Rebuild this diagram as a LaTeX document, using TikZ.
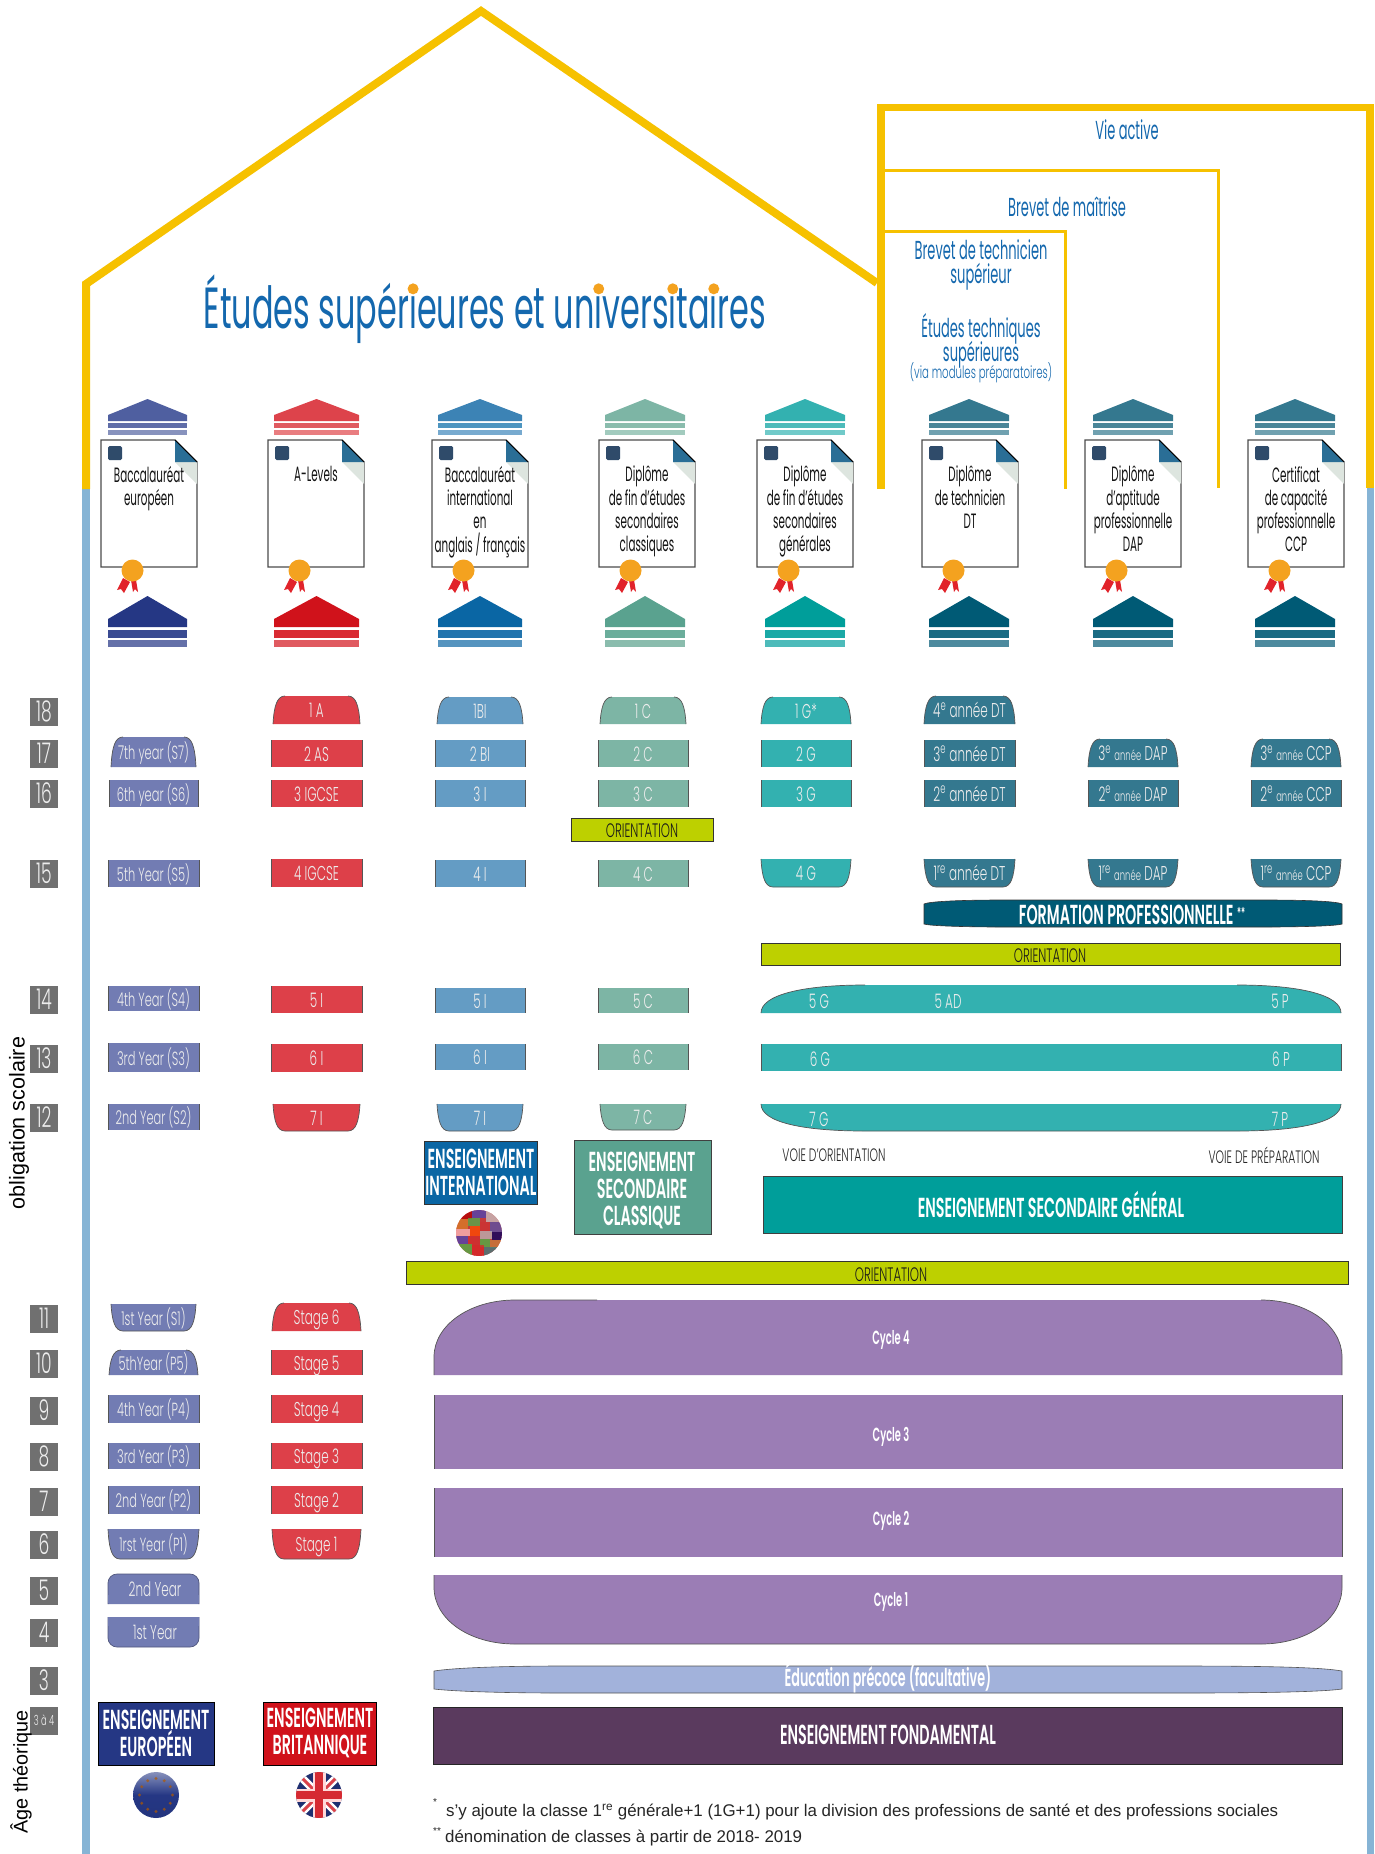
\documentclass[tikz,border=0pt]{standalone}
\usepackage{fontspec}
\setmainfont{Liberation Sans}
\newfontfamily\fut[FakeStretch=0.6]{Poppins Light}
\newfontfamily\futd[FakeStretch=0.5]{Poppins}
\newfontfamily\futt[FakeStretch=0.55]{Poppins}
\newfontfamily\futb[FakeStretch=0.52]{Poppins SemiBold}
\newcommand\fsz[2]{\fontsize{#1}{#2}\selectfont}
\newcommand\es[1]{{\fsz{19}{20}#1}}
\definecolor{yel}{HTML}{F6C100}
\definecolor{dotc}{HTML}{F4A21F}
\definecolor{sideblue}{HTML}{86B4D5}
\definecolor{agegray}{HTML}{707070}
\definecolor{edgeg}{HTML}{555555}
\definecolor{ttl}{HTML}{1468AE}
\definecolor{ceu}{HTML}{727CB3}
\definecolor{cbr}{HTML}{DD4049}
\definecolor{cib}{HTML}{649CC4}
\definecolor{ccl}{HTML}{7DB5A5}
\definecolor{cge}{HTML}{33B1B0}
\definecolor{cdt}{HTML}{34788F}
\definecolor{cfp}{HTML}{005A75}
\definecolor{cor}{HTML}{BDD000}
\definecolor{ccy}{HTML}{9B7DB5}
\definecolor{cpr}{HTML}{A2B2DB}
\definecolor{cfo}{HTML}{5A3A5E}
\definecolor{beu}{HTML}{253784}
\definecolor{bbr}{HTML}{D0121B}
\definecolor{bib}{HTML}{0A66A4}
\definecolor{bcl}{HTML}{5AA28F}
\definecolor{bge}{HTML}{009E9A}
\definecolor{foldb}{HTML}{2A6E96}
\definecolor{foldg}{HTML}{DDE5DF}
\definecolor{docsq}{HTML}{2F4B6A}
\definecolor{medal}{HTML}{F4A21F}
\definecolor{ribbon}{HTML}{E1232A}
\tikzset{
 lbl/.style={inner sep=0pt,text=white!93!black,font=\fut\fsz{20}{22},text height=14pt,text depth=0pt},
 agenum/.style={fill=agegray,inner sep=0pt,text=white!93!black,font=\fut\fsz{28.5}{30},text height=20pt,text depth=0pt},
 ttltxt/.style={inner sep=0pt,text=ttl,font=\futd\fsz{26}{24},align=center},
 doctxt/.style={anchor=north,inner sep=0pt,text=black!92,font=\futd\fsz{20.7}{23.3},align=center},
 badge/.style={inner sep=0pt,text=white,font=\futb\fsz{27.5}{27},align=center},
 ortxt/.style={inner sep=0pt,text=black!90,font=\fut\fsz{19.5}{20},text height=14pt,text depth=0pt},
 voie/.style={inner sep=0pt,text=black!85,font=\fut\fsz{18}{19}},
 cyc/.style={inner sep=0pt,text=white,font=\futb\fsz{19}{20}},
 edgeline/.style={draw=edgeg,line width=.7pt},
 note/.style={anchor=west,inner sep=0pt,text=black!85,font=\fsz{16.9}{19}},
 sidetxt/.style={inner sep=0pt,text=black,rotate=90},
}
% i with orange dot for the main title
\newcommand\oi{\setbox0\hbox{i}\rlap{i}\hbox to \wd0{\hss\raisebox{34pt}{\tikz\fill[dotc] (0,0) circle (5.5pt);}\hss}}
% flat box
\newcommand\fbx[7]{\fill[#6] (#2,#3) rectangle (#4,#5);
 \draw[edgeline] (#2,#3) -- (#2,#5) (#4,#3) -- (#4,#5);
 \node[lbl] (#1) at ({(#2+#4)/2},{(#3+#5)/2+.8}) {#7};}
% top rounded
\newcommand\tbx[7]{\fill[#6] (#2,#5) .. controls (#2+1,#3+10) and (#2+4,#3) .. (#2+12,#3) -- (#4-12,#3) .. controls (#4-4,#3) and (#4-1,#3+10) .. (#4,#5) -- cycle;
 \draw[edgeline] (#2,#5) .. controls (#2+1,#3+10) and (#2+4,#3) .. (#2+12,#3) (#4,#5) .. controls (#4-1,#3+10) and (#4-4,#3) .. (#4-12,#3);
 \node[lbl] (#1) at ({(#2+#4)/2},{(#3+#5)/2+.8}) {#7};}
% bottom rounded
\newcommand\bbx[7]{\fill[#6] (#2,#3) .. controls (#2+1,#5-10) and (#2+4,#5) .. (#2+12,#5) -- (#4-12,#5) .. controls (#4-4,#5) and (#4-1,#5-10) .. (#4,#3) -- cycle;
 \draw[edgeline] (#2,#3) .. controls (#2+1,#5-10) and (#2+4,#5) .. (#2+12,#5) -- (#4-12,#5) .. controls (#4-4,#5) and (#4-1,#5-10) .. (#4,#3);
 \node[lbl] (#1) at ({(#2+#4)/2},{(#3+#5)/2+.8}) {#7};}
% age
\newcommand\age[4]{\node[agenum,minimum width=28pt,minimum height=#4pt-#3pt] (#1) at (44,{(#3+#4)/2+.5}) {#2};}
% houses
\newcommand\htop[5]{\fill[#3] (#1,415) -- ({(#1+#2)/2},399) -- (#2,415) -- (#2,421) -- (#1,421) -- cycle;
 \fill[#4] (#1,422.5) rectangle (#2,428); \fill[#5] (#1,429.5) rectangle (#2,435);}
\newcommand\hbot[5]{\fill[#3] (#1,619) -- ({(#1+#2)/2},596) -- (#2,619) -- (#2,627) -- (#1,627) -- cycle;
 \fill[#4] (#1,630) rectangle (#2,638); \fill[#5] (#1,640) rectangle (#2,647);}
% document
\newcommand\docu[3]{
 \draw[black!70,line width=1.2pt,fill=white] (#2,440) -- (#2+74,440) -- (#2+96,462) -- (#2+96,567) -- (#2,567) -- cycle;
 \fill[foldg] (#2+74,462) -- (#2+96,462) -- (#2+96,484) -- cycle;
 \fill[foldb] (#2+74,440) -- (#2+96,462) -- (#2+74,462) -- cycle;
 \draw[black,line width=.8pt] (#2+74,440) -- (#2+96,462);
 \fill[rounded corners=1.5pt,docsq] (#2+7,446) rectangle (#2+21,460);
 \fill[ribbon] (#2+22,578) -- (#2+29,582) -- (#2+23,593) -- (#2+20,589) -- (#2+16,590) -- cycle;
 \fill[ribbon] (#2+30,580) -- (#2+35,580) -- (#2+37,592) -- (#2+34,589) -- (#2+32,592) -- cycle;
 \fill[medal] (#2+31.5,570.5) circle (11);
 \node[doctxt] (#1) at (#2+48,466) {#3};}
\begin{document}
\begin{tikzpicture}[x=1pt,y=-1pt]
\useasboundingbox (0,0) rectangle (1374,1854);
\fill[white] (0,0) rectangle (1374,1854);
% side bars
\fill[sideblue] (82,488) rectangle (89.5,1854);
\fill[sideblue] (1366.5,488) rectangle (1374,1854);
% roof
\draw[yel,line width=8pt,miter limit=10] (86,489) -- (86,284) -- (481,11) -- (877,283);
\draw[yel,line width=7.5pt] (881,489) -- (881,107.5) -- (1370,107.5) -- (1370,488);
\draw[yel,line width=3pt] (881,170.5) -- (1218,170.5) -- (1218,488);
\draw[yel,line width=3pt] (881,231.5) -- (1065,231.5) -- (1065,489);
% titles
\node[inner sep=0pt,text=ttl,font=\futt\fsz{58}{60}] (title) at (485,309) {Études supér\oi eures et un\oi vers\oi ta\oi res};
\node[ttltxt] (vie) at (1127,130) {Vie active};
\node[ttltxt] (mai) at (1067,207) {Brevet de maîtrise};
\node[ttltxt,anchor=north] (bts) at (981,240) {Brevet de technicien\\supérieur};
\node[ttltxt,anchor=north] (ets) at (981,313) {Études techniques\\[-4pt]supérieures};
\node[ttltxt,font=\fut\fsz{17}{18}] (via) at (981,373) {(via modules préparatoires)};
% houses
\definecolor{a1}{HTML}{4F5FA0}\definecolor{a2}{HTML}{5F6DA8}\definecolor{a3}{HTML}{8792BD}
\definecolor{a4}{HTML}{253784}\definecolor{a5}{HTML}{3A4B92}\definecolor{a6}{HTML}{6470A8}
\definecolor{b1}{HTML}{DD434B}\definecolor{b2}{HTML}{E05A60}\definecolor{b3}{HTML}{E97D80}
\definecolor{b4}{HTML}{D0121B}\definecolor{b5}{HTML}{D92B33}\definecolor{b6}{HTML}{E05A60}
\definecolor{c1}{HTML}{3C83B5}\definecolor{c2}{HTML}{4D95C0}\definecolor{c3}{HTML}{77AACF}
\definecolor{c4}{HTML}{0A66A4}\definecolor{c5}{HTML}{2274AD}\definecolor{c6}{HTML}{5594BF}
\definecolor{d1}{HTML}{7DB5A5}\definecolor{d2}{HTML}{8ABCAD}\definecolor{d3}{HTML}{A2CBBE}
\definecolor{d4}{HTML}{5AA28F}\definecolor{d5}{HTML}{6BAD9B}\definecolor{d6}{HTML}{8ABCAD}
\definecolor{e1}{HTML}{33B1B0}\definecolor{e2}{HTML}{4DBBBA}\definecolor{e3}{HTML}{70CAC9}
\definecolor{e4}{HTML}{009E9A}\definecolor{e5}{HTML}{1AA9A6}\definecolor{e6}{HTML}{4DBBBA}
\definecolor{f1}{HTML}{34788F}\definecolor{f2}{HTML}{4A8699}\definecolor{f3}{HTML}{70A1B0}
\definecolor{f4}{HTML}{005A75}\definecolor{f5}{HTML}{1A6B83}\definecolor{f6}{HTML}{4D8A9E}
\htop{108}{187}{a1}{a2}{a3}\hbot{108}{187}{a4}{a5}{a6}
\htop{274}{359}{b1}{b2}{b3}\hbot{274}{359}{b4}{b5}{b6}
\htop{438}{522}{c1}{c2}{c3}\hbot{438}{522}{c4}{c5}{c6}
\htop{605}{685}{d1}{d2}{d3}\hbot{605}{685}{d4}{d5}{d6}
\htop{765}{845}{e1}{e2}{e3}\hbot{765}{845}{e4}{e5}{e6}
\htop{929}{1009}{f1}{f2}{f3}\hbot{929}{1009}{f4}{f5}{f6}
\htop{1093}{1173}{f1}{f2}{f3}\hbot{1093}{1173}{f4}{f5}{f6}
\htop{1255}{1335}{f1}{f2}{f3}\hbot{1255}{1335}{f4}{f5}{f6}
% documents
\docu{dEU}{101}{Baccalauréat\\européen}
\docu{dAL}{268}{A-Levels}
\docu{dIB}{432}{Baccalauréat\\international\\en\\anglais / français}
\docu{dCL}{599}{Diplôme\\de fin d’études\\secondaires\\classiques}
\docu{dGE}{757}{Diplôme\\de fin d’études\\secondaires\\générales}
\docu{dDT}{922}{Diplôme\\de technicien\\DT}
\docu{dDA}{1085}{Diplôme\\d’aptitude\\professionnelle\\DAP}
\docu{dCC}{1248}{Certificat\\de capacité\\professionnelle\\CCP}
% ages
\age{a18}{18}{697}{725}\age{a17}{17}{739}{767}\age{a16}{16}{779}{807}\age{a15}{15}{859}{887}
\age{a14}{14}{985}{1013}\age{a13}{13}{1044}{1072}\age{a12}{12}{1103}{1131}
\age{a11}{11}{1304}{1332}\age{a10}{10}{1349}{1377}\age{a9}{9}{1396}{1424}\age{a8}{8}{1442}{1470}
\age{a7}{7}{1487}{1515}\age{a6}{6}{1530}{1558}\age{a5}{5}{1576}{1604}\age{a4}{4}{1618}{1646}\age{a3}{3}{1666}{1694}
\fill[agegray] (30,1707) rectangle (58,1735);
\node[inner sep=0pt,text=white!93!black,font=\fut\fsz{14}{15}] (a34) at (44,1720) {3 à 4};
\node[sidetxt,font=\fsz{21.5}{23}] (oblig) at (19,1123) {obligation scolaire};
\node[sidetxt,font=\fsz{19.8}{22}] (agetheo) at (21,1772) {Âge théorique};
% European column
\tbx{s7}{111}{737}{196}{767}{ceu}{\es{7th year (S7)}}
\fbx{s6}{109}{780}{198}{807}{ceu}{\es{6th year (S6)}}
\fbx{s5}{108}{860}{199}{887}{ceu}{\es{5th Year (S5)}}
\fbx{s4}{108}{986}{199}{1011}{ceu}{\es{4th Year (S4)}}
\fbx{s3}{108}{1043}{199}{1072}{ceu}{\es{3rd Year (S3)}}
\fbx{s2}{108}{1104}{199}{1130}{ceu}{\es{2nd Year (S2)}}
\bbx{s1}{111}{1304}{196}{1331}{ceu}{\es{1st Year (S1)}}
\tbx{p5}{109}{1350}{198}{1375}{ceu}{\es{5thYear (P5)}}
\fbx{p4}{108}{1395}{199}{1423}{ceu}{\es{4th Year (P4)}}
\fbx{p3}{108}{1443}{199}{1469}{ceu}{\es{3rd Year (P3)}}
\fbx{p2}{108}{1486}{199}{1514}{ceu}{\es{2nd Year (P2)}}
\bbx{p1}{108}{1529}{199}{1559}{ceu}{\es{1rst Year (P1)}}
\draw[edgeline,fill=ceu,draw=ceu!70!black,rounded corners=9pt] (108,1604) -- (108,1574) -- (199,1574) -- (199,1604);
\fill[ceu] (108,1595) rectangle (199,1603);
\node[lbl] (n2) at (155,1589) {2nd Year};
\draw[edgeline,fill=ceu,draw=ceu!70!black,rounded corners=9pt] (108,1617) -- (108,1647) -- (199,1647) -- (199,1617);
\fill[ceu] (108,1617) rectangle (199,1626);
\node[lbl] (n1) at (155,1632) {1st Year};
% British column
\tbx{g1}{273}{696}{360}{724}{cbr}{1 A}
\fbx{g2}{271}{740}{362}{767}{cbr}{2 AS}
\fbx{g3}{271}{780}{362}{807}{cbr}{3 IGCSE}
\fbx{g4}{271}{859}{362}{887}{cbr}{4 IGCSE}
\fbx{g5}{271}{986}{362}{1013}{cbr}{5 I}
\fbx{g6}{271}{1044}{362}{1072}{cbr}{6 I}
\bbx{g7}{273}{1104}{360}{1131}{cbr}{7 I}
\tbx{st6}{272}{1303}{361}{1331}{cbr}{Stage 6}
\fbx{st5}{271}{1350}{362}{1375}{cbr}{Stage 5}
\fbx{st4}{271}{1395}{362}{1423}{cbr}{Stage 4}
\fbx{st3}{271}{1443}{362}{1469}{cbr}{Stage 3}
\fbx{st2}{271}{1486}{362}{1514}{cbr}{Stage 2}
\bbx{st1}{272}{1529}{361}{1559}{cbr}{Stage 1}
% International column
\tbx{i1}{437}{697}{523}{724}{cib}{1BI}
\fbx{i2}{435}{740}{525}{767}{cib}{2 BI}
\fbx{i3}{435}{780}{525}{807}{cib}{3 I}
\fbx{i4}{435}{860}{525}{887}{cib}{4 I}
\fbx{i5}{435}{988}{525}{1013}{cib}{5 I}
\fbx{i6}{435}{1044}{525}{1070}{cib}{6 I}
\bbx{i7}{437}{1104}{523}{1131}{cib}{7 I}
% Classic column
\tbx{c1n}{600}{697}{686}{724}{ccl}{1 C}
\fbx{c2n}{598}{740}{688}{767}{ccl}{2 C}
\fbx{c3n}{598}{780}{688}{807}{ccl}{3 C}
\fbx{c4n}{598}{860}{688}{887}{ccl}{4 C}
\fbx{c5n}{598}{988}{688}{1013}{ccl}{5 C}
\fbx{c6n}{598}{1044}{688}{1070}{ccl}{6 C}
\bbx{c7n}{600}{1104}{686}{1130}{ccl}{7 C}
% General column
\tbx{g1n}{761}{697}{851}{724}{cge}{1 G*}
\fbx{g2n}{761}{740}{851}{767}{cge}{2 G}
\fbx{g3n}{761}{780}{851}{807}{cge}{3 G}
\bbx{g4n}{761}{859}{851}{887}{cge}{4 G}
% Professional columns
\tbx{dt4}{924}{696}{1015}{724}{cdt}{4\textsuperscript{e} année DT}
\fbx{dt3}{924}{740}{1015}{767}{cdt}{3\textsuperscript{e} année DT}
\fbx{dt2}{924}{780}{1015}{807}{cdt}{2\textsuperscript{e} année DT}
\bbx{dt1}{924}{859}{1015}{887}{cdt}{1\textsuperscript{re} année DT}
\tbx{da3}{1088}{739}{1178}{767}{cdt}{3\textsuperscript{e} {\fsz{14}{15}année} DAP}
\fbx{da2}{1088}{780}{1178}{807}{cdt}{2\textsuperscript{e} {\fsz{14}{15}année} DAP}
\bbx{da1}{1088}{859}{1178}{887}{cdt}{1\textsuperscript{re} {\fsz{14}{15}année} DAP}
\tbx{cc3}{1251}{739}{1341}{767}{cdt}{3\textsuperscript{e} {\fsz{14}{15}année} CCP}
\fbx{cc2}{1251}{780}{1341}{807}{cdt}{2\textsuperscript{e} {\fsz{14}{15}année} CCP}
\bbx{cc1}{1251}{859}{1341}{887}{cdt}{1\textsuperscript{re} {\fsz{14}{15}année} CCP}
% Formation
\fill[cfp,draw=black!80,line width=.6pt] (924,904) .. controls (930,901) and (970,900) .. (1000,900) -- (1266,900) .. controls (1300,900) and (1336,901) .. (1342,904) -- (1342,924) .. controls (1336,926) and (1300,927) .. (1266,927) -- (1000,927) .. controls (970,927) and (930,926) .. (924,924) -- cycle;
\node[badge,font=\futb\fsz{27.5}{29}] (fp) at (1132,914.5) {FORMATION PROFESSIONNELLE \raisebox{6pt}{\fsz{15}{15}**}};
% Orientation bars
\draw[fill=cor,draw=black!80,line width=.9pt] (571,818.5) rectangle (713,841.5);
\node[ortxt] (o1) at (642,830) {ORIENTATION};
\draw[fill=cor,draw=black!80,line width=.9pt] (761,943.5) rectangle (1340,965);
\node[ortxt] (o2) at (1050,955) {ORIENTATION};
\draw[fill=cor,draw=black!80,line width=.9pt] (406.5,1261.5) rectangle (1348,1284);
\node[ortxt] (o3) at (891,1274) {ORIENTATION};
% wide general bars
\fill[cge] (761,1013) .. controls (761,995) and (802,985) .. (865,985) -- (1237,985) .. controls (1300,985) and (1341,995) .. (1341,1013) -- cycle;
\draw[edgeline] (761,1013) .. controls (761,995) and (802,985) .. (865,985) (1341,1013) .. controls (1341,995) and (1300,985) .. (1237,985);
\fill[cge] (761,1044) rectangle (1341,1071);
\draw[edgeline] (761,1044) -- (761,1071) (1341,1044) -- (1341,1071);
\fill[cge] (761,1104) .. controls (761,1122) and (802,1131) .. (865,1131) -- (1237,1131) .. controls (1300,1131) and (1341,1122) .. (1341,1104) -- cycle;
\draw[edgeline] (761,1104) .. controls (761,1122) and (802,1131) .. (865,1131) -- (1237,1131) .. controls (1300,1131) and (1341,1122) .. (1341,1104);
\node[lbl] (t5g) at (819,1001) {5 G};
\node[lbl] (t5ad) at (948,1001) {5 AD};
\node[lbl] (t5p) at (1280,1001) {5 P};
\node[lbl] (t6g) at (820,1059) {6 G};
\node[lbl] (t6p) at (1281,1059) {6 P};
\node[lbl] (t7g) at (819,1119) {7 G};
\node[lbl] (t7p) at (1280,1119) {7 P};
\node[voie] (vo) at (834,1155) {VOIE D’ORIENTATION};
\node[voie] (vp) at (1264,1155) {VOIE DE PRÉPARATION};
% badges
\draw[fill=bge,draw=black!75,line width=1pt] (763,1176.5) rectangle (1342,1233);
\node[badge] (bg) at (1051,1204) {ENSEIGNEMENT SECONDAIRE GÉNÉRAL};
\draw[fill=bib,draw=black!80,line width=1pt] (424.5,1141.5) rectangle (537,1204);
\node[badge] (bi) at (481,1172) {ENSEIGNEMENT\\INTERNATIONAL};
\draw[fill=bcl,draw=black!75,line width=1pt] (574.5,1140.5) rectangle (711,1234);
\node[badge] (bc) at (642,1190) {ENSEIGNEMENT\\SECONDAIRE\\CLASSIQUE};
\draw[fill=beu,draw=black,line width=1pt] (98.5,1702.5) rectangle (214,1765);
\node[badge] (be) at (156,1733) {ENSEIGNEMENT\\EUROPÉEN};
\draw[fill=bbr,draw=black,line width=1pt] (263.5,1702.5) rectangle (376,1765);
\node[badge] (bb) at (320,1733) {ENSEIGNEMENT\\BRITANNIQUE};
% flags
\shade[top color=beu!55!white,bottom color=beu!95!black,middle color=beu] (156,1795) circle (23);
\foreach \an in {0,30,...,330} \fill[orange!70!black,opacity=.7] ({156+16.5*cos(\an)},{1795+16.5*sin(\an)}) circle (1.6);
\begin{scope}
 \clip (319,1795) circle (23);
 \fill[beu!85!black] (296,1772) rectangle (342,1818);
 \draw[white,line width=8pt] (296,1772) -- (342,1818) (342,1772) -- (296,1818);
 \draw[bbr!80!white,line width=3pt] (296,1772) -- (342,1818) (342,1772) -- (296,1818);
 \draw[white!85!red,line width=13pt] (319,1772) -- (319,1818) (296,1795) -- (342,1795);
 \draw[bbr!90!white,line width=8pt] (319,1772) -- (319,1818) (296,1795) -- (342,1795);
\end{scope}
\begin{scope}
 \clip (479,1233) circle (23);
 \fill[red!55!gray] (456,1210) rectangle (502,1256);
 \foreach \fx/\fy/\fw/\fh/\fc in {
  456/1210/16/9/red!70!black, 472/1210/14/8/blue!45!gray, 486/1210/16/12/gray!45!white,
  456/1219/12/10/orange!70!gray, 468/1218/12/8/green!40!gray, 480/1222/10/9/red!60!gray, 490/1222/12/10/blue!35!gray,
  456/1229/14/7/white!75!red, 470/1226/10/10/orange!60!red, 480/1231/12/8/gray!55!white, 492/1232/10/8/blue!40!black,
  456/1236/12/8/blue!45!gray, 468/1236/12/9/red!65!gray, 480/1239/10/8/green!45!gray, 490/1240/12/8/orange!55!gray,
  456/1244/16/12/green!45!gray, 472/1245/12/11/red!70!gray, 484/1247/18/9/teal!55!gray}
  \fill[\fc,opacity=.75] (\fx,\fy) rectangle ++(\fw,\fh);
\end{scope}
% cycles
\fill[ccy] (434,1375) -- (434,1357) .. controls (434,1325) and (470,1300) .. (515,1300) -- (1261,1300) .. controls (1306,1300) and (1342,1325) .. (1342,1357) -- (1342,1375) -- cycle;
\draw[edgeline] (434,1375) -- (434,1357) .. controls (434,1325) and (470,1300) .. (515,1300) -- (597,1300);
\draw[edgeline] (1342,1375) -- (1342,1357) .. controls (1342,1325) and (1306,1300) .. (1261,1300);
\fill[ccy] (434,1395) rectangle (1342,1469);
\draw[edgeline] (434,1395) -- (434,1469) (1342,1395) -- (1342,1469);
\fill[ccy] (434,1488) rectangle (1342,1557);
\draw[edgeline] (434,1488) -- (434,1557) (1342,1488) -- (1342,1557);
\fill[ccy] (434,1575) -- (1342,1575) -- (1342,1587) .. controls (1342,1620) and (1306,1644) .. (1261,1644) -- (515,1644) .. controls (470,1644) and (434,1620) .. (434,1587) -- cycle;
\draw[edgeline] (1342,1575) -- (1342,1587) .. controls (1342,1620) and (1306,1644) .. (1261,1644) -- (515,1644) .. controls (470,1644) and (434,1620) .. (434,1587) -- (434,1575);
\node[cyc] (cy4) at (891,1340) {Cycle 4};
\node[cyc] (cy3) at (891,1437) {Cycle 3};
\node[cyc] (cy2) at (891,1521) {Cycle 2};
\node[cyc] (cy1) at (891,1602) {Cycle 1};
% early ed
\draw[fill=cpr,draw=edgeg,line width=.6pt] (434,1671) .. controls (460,1667) and (520,1666) .. (560,1666) -- (1180,1666) .. controls (1260,1666) and (1320,1667) .. (1342,1671) -- (1342,1689) .. controls (1320,1692) and (1260,1693) .. (1180,1693) -- (560,1693) .. controls (520,1693) and (460,1692) .. (434,1689) -- cycle;
\node[badge,font=\futb\fsz{24.5}{26}] (pre) at (888,1678) {Éducation précoce (facultative)};
% fondamental
\draw[fill=cfo,draw=black!85,line width=.9pt] (433.5,1707.5) rectangle (1342,1764);
\node[badge] (fon) at (888,1735) {ENSEIGNEMENT FONDAMENTAL};
% notes
\node[note] (n1star) at (433,1802) {\fsz{10}{11}*};
\node[note] (note1) at (446,1812) {s’y ajoute la classe 1\textsuperscript{re} générale+1 (1G+1) pour la division des professions de santé et des professions sociales};
\node[note] (n2star) at (433,1831) {\fsz{10}{11}**};
\node[note] (note2) at (445,1838) {dénomination de classes à partir de 2018- 2019};
\end{tikzpicture}
\end{document}
